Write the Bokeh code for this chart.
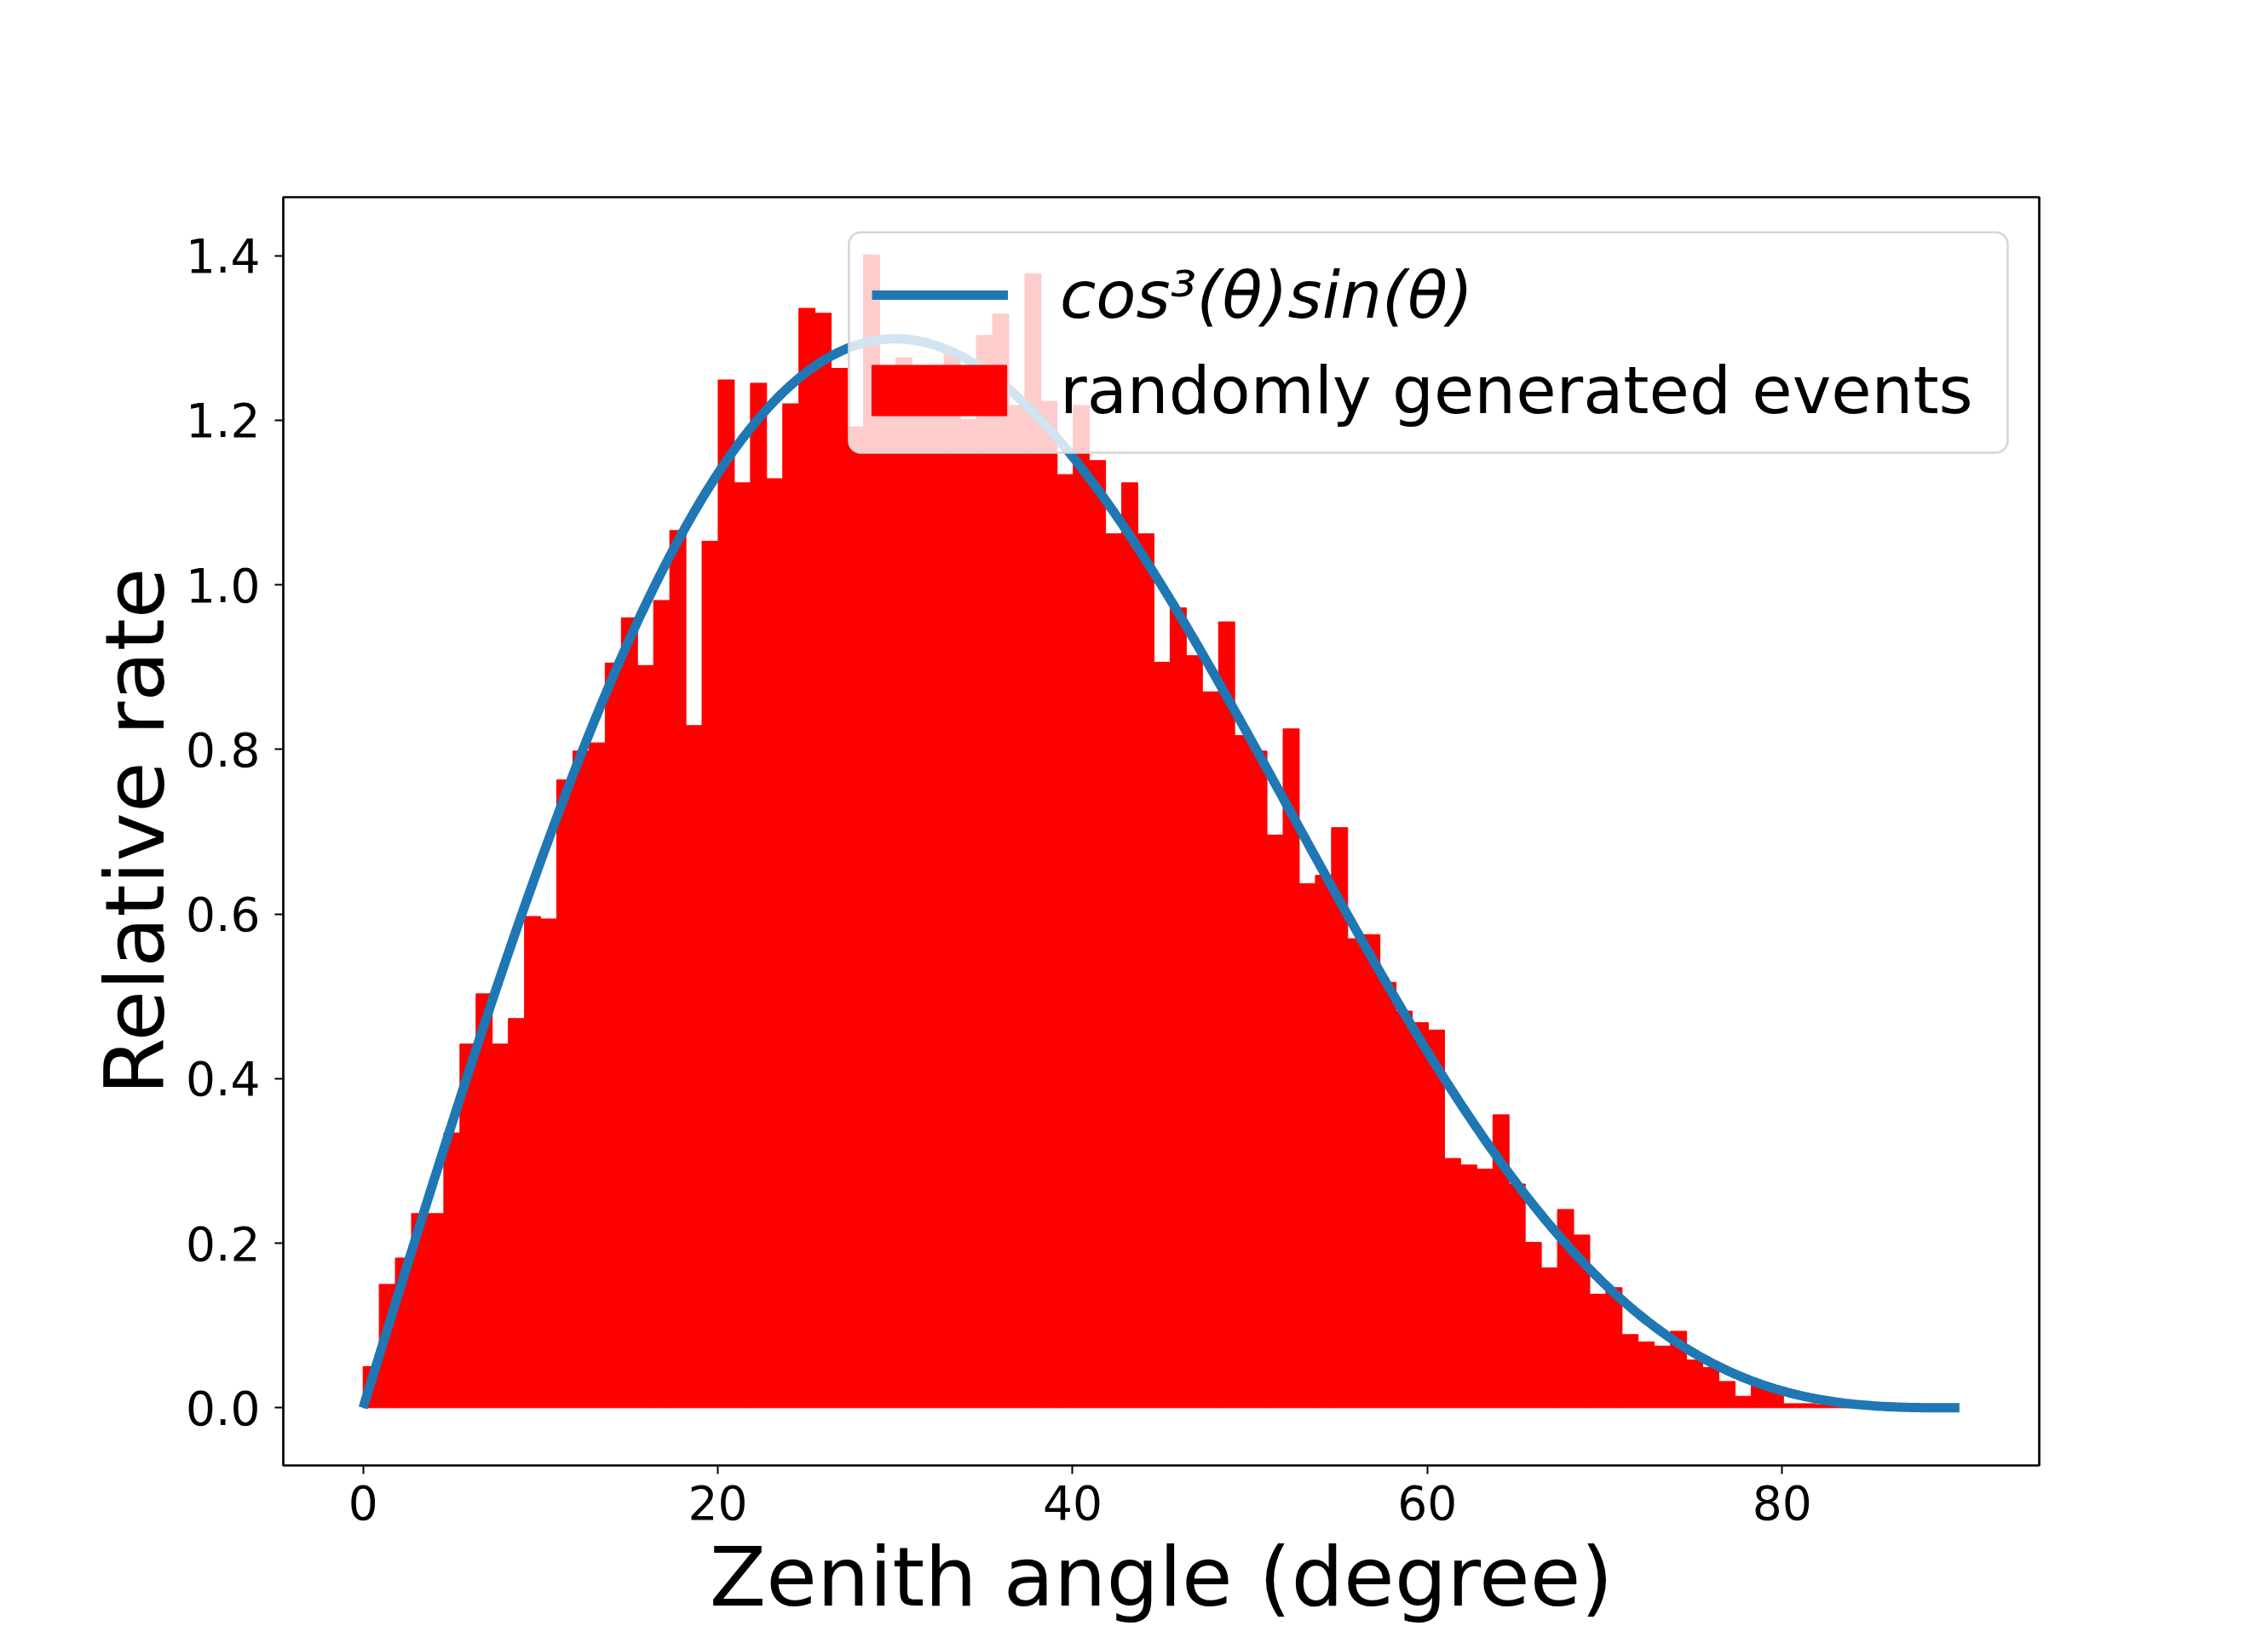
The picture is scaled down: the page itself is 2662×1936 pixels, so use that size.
import numpy as np
from bokeh.plotting import figure
from bokeh.models import (Legend, LegendItem, FixedTicker, PrintfTickFormatter,
                          ColumnDataSource, BoxAnnotation)
from bokeh.embed import file_html
from bokeh.resources import INLINE

# ---------------- data ----------------
BIN_WIDTH = 0.91  # degrees per histogram bin
counts = [0.050, 0.150, 0.182, 0.236, 0.236, 0.334, 0.442, 0.503, 0.442, 0.473,
          0.597, 0.594, 0.763, 0.798, 0.808, 0.905, 0.960, 0.902, 0.981, 1.066,
          0.829, 1.053, 1.249, 1.124, 1.245, 1.129, 1.220, 1.336, 1.330, 1.263,
          1.192, 1.401, 1.230, 1.276, 1.240, 1.220, 1.281, 1.201, 1.303, 1.329,
          1.218, 1.378, 1.223, 1.134, 1.218, 1.151, 1.062, 1.124, 1.062, 0.906,
          0.972, 0.914, 0.870, 0.955, 0.817, 0.798, 0.696, 0.825, 0.637, 0.647,
          0.705, 0.570, 0.575, 0.517, 0.482, 0.468, 0.459, 0.303, 0.295, 0.290,
          0.356, 0.272, 0.201, 0.170, 0.241, 0.210, 0.138, 0.146, 0.089, 0.080,
          0.075, 0.093, 0.058, 0.049, 0.032, 0.014, 0.027, 0.020, 0.005, 0.005,
          0.004, 0.003, 0.002]
x_ticks = [0, 20, 40, 60, 80]
y_ticks = [0.0, 0.2, 0.4, 0.6, 0.8, 1.0, 1.2, 1.4]
curve_label = "cos³(θ)sin(θ)"
hist_label = "randomly generated events"
x_label = "Zenith angle (degree)"
y_label = "Relative rate"

# theoretical curve: normalised cos^3(theta) sin(theta), theta 0..90 deg
theta_deg = np.linspace(0, 90, 600)
theta = np.radians(theta_deg)
curve = 4.0 * np.cos(theta) ** 3 * np.sin(theta)

edges = np.arange(len(counts) + 1) * BIN_WIDTH
hist_src = ColumnDataSource(dict(left=edges[:-1], right=edges[1:],
                                 top=counts, bottom=[0.0] * len(counts)))
curve_src = ColumnDataSource(dict(x=theta_deg, y=curve))

FONT = "DejaVu Sans"

p = figure(frame_width=2061, frame_height=1489,
           x_range=(-4.5, 94.5), y_range=(-0.07005, 1.47105),
           output_backend="svg", toolbar_location=None,
           min_border_left=332, min_border_top=231,
           min_border_right=240, min_border_bottom=120,
           background_fill_color="white", border_fill_color="white")

bars = p.quad(left="left", right="right", top="top", bottom="bottom",
              source=hist_src, fill_color="#ff0000", line_color="#ff0000",
              line_width=1)
line = p.line("x", "y", source=curve_src, line_color="#1f77b4", line_width=11)

p.grid.visible = False
p.outline_line_color = "black"
p.outline_line_width = 2.7
p.outline_line_alpha = 1.0

for ax in (p.xaxis[0], p.yaxis[0]):
    ax.axis_line_color = None
    ax.major_tick_out = 10
    ax.major_tick_in = 0
    ax.major_tick_line_width = 2
    ax.major_tick_line_color = "black"
    ax.minor_tick_line_color = None
    ax.major_label_text_font = FONT
    ax.major_label_text_font_size = "55px"
    ax.major_label_text_color = "black"
    ax.axis_label_text_font = FONT
    ax.axis_label_text_font_size = "97px"
    ax.axis_label_text_font_style = "normal"
    ax.axis_label_text_color = "black"

p.xaxis[0].ticker = FixedTicker(ticks=x_ticks)
p.xaxis[0].major_label_standoff = 13
p.xaxis[0].axis_label = x_label
p.xaxis[0].axis_label_standoff = 8

p.yaxis[0].ticker = FixedTicker(ticks=y_ticks)
p.yaxis[0].formatter = PrintfTickFormatter(format="%.1f")
p.yaxis[0].major_label_standoff = 17
p.yaxis[0].axis_label = y_label
p.yaxis[0].axis_label_standoff = 0

# legend frame (rounded, semi-transparent white)
legend_box = BoxAnnotation(left=27.39, right=92.72, top=1.4283, bottom=1.1606,
                           fill_color="white", fill_alpha=0.8,
                           line_color="#d5d5d5", line_width=2.5, line_alpha=1.0)
if "border_radius" in BoxAnnotation.properties():
    legend_box.border_radius = 14
p.add_layout(legend_box)

leg_common = dict(
    margin=0,
    padding=10,
    spacing=0,
    label_height=100,
    label_text_font=FONT,
    label_text_font_size="77px",
    label_text_color="black",
    background_fill_alpha=0.0,
    border_line_color=None,
)

leg_curve = Legend(items=[LegendItem(label=curve_label, renderers=[line])],
                   location=(691, 1324), label_text_font_style="italic",
                   glyph_width=160, glyph_height=60, label_standoff=61,
                   **leg_common)
# area legend glyphs are drawn with a 10% inset, so the box is enlarged
leg_hist = Legend(items=[LegendItem(label=hist_label, renderers=[bars])],
                  location=(671, 1212), label_text_font_style="normal",
                  glyph_width=198, glyph_height=74, label_standoff=43,
                  **leg_common)
p.add_layout(leg_curve)
p.add_layout(leg_hist)

open("out.html", "w").write(file_html(p, INLINE))
